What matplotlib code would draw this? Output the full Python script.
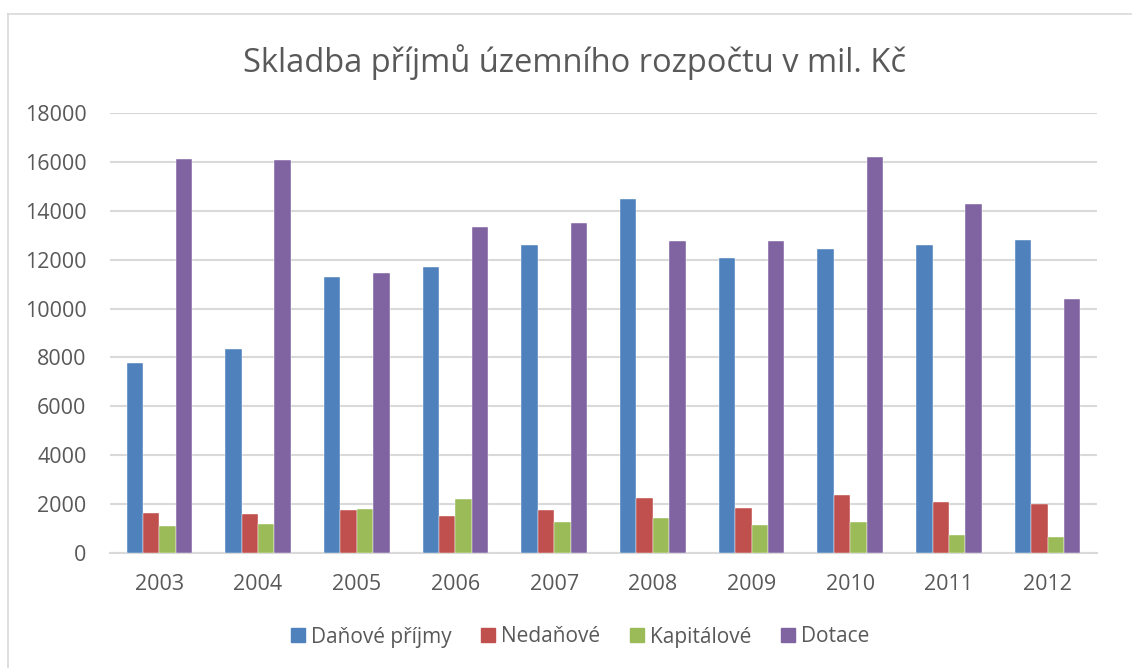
import matplotlib
matplotlib.use("Agg")
import matplotlib.pyplot as plt
import numpy as np
from matplotlib.lines import Line2D

plt.rcParams['font.family'] = ['Open Sans', 'DejaVu Sans']

years = ["2003", "2004", "2005", "2006", "2007", "2008", "2009", "2010", "2011", "2012"]
danove = [7780, 8330, 11290, 11720, 12620, 14490, 12060, 12440, 12580, 12800]
nedanove = [1650, 1590, 1750, 1530, 1750, 2240, 1830, 2380, 2090, 2010]
kapitalove = [1110, 1200, 1800, 2210, 1260, 1450, 1150, 1270, 740, 660]
dotace = [16130, 16060, 11440, 13330, 13520, 12760, 12780, 16200, 14290, 10400]

series = [("Daňové příjmy", danove, "#4F81BD"),
          ("Nedaňové", nedanove, "#C0504D"),
          ("Kapitálové", kapitalove, "#9BBB59"),
          ("Dotace", dotace, "#8064A2")]

text_color = "#595959"
grid_color = "#D9D9D9"

fig = plt.figure(figsize=(11.32, 6.68), dpi=100)
ax = fig.add_axes([110/1132, 1 - 553/668, (1097-110)/1132, (553-113)/668])

x = np.arange(len(years))
bw = 0.166
for i, (name, vals, col) in enumerate(series):
    ax.bar(x + (i - 1.5) * bw, vals, width=bw, color=col, label=name,
           zorder=3, edgecolor="white", linewidth=0.3)

ax.set_xlim(-0.5, len(years) - 0.5)
ax.set_ylim(0, 18000)
ax.set_yticks(np.arange(0, 18001, 2000))
ax.set_xticks(x)
ax.set_xticklabels(years)
ax.yaxis.grid(True, color=grid_color, linewidth=1.5, zorder=0)
ax.set_axisbelow(True)
for s in ["top", "right", "left"]:
    ax.spines[s].set_visible(False)
ax.spines["bottom"].set_color(grid_color)
ax.spines["bottom"].set_linewidth(1.5)
ax.tick_params(axis="both", length=0, colors=text_color, labelsize=15.5)
ax.tick_params(axis="y", pad=17)
ax.tick_params(axis="x", pad=15)

fig.text(575/1132, 1 - 62/668, "Skladba příjmů územního rozpočtu v mil. Kč",
         ha="center", va="center", fontsize=23.5, color=text_color)

handles = [plt.Rectangle((0, 0), 1, 1, color=c) for _, _, c in series]
labels = [n for n, _, _ in series]
leg = fig.legend(handles, labels, loc="center", bbox_to_anchor=(580/1132, 1 - 637/668),
                 ncol=4, frameon=False, fontsize=15, handlelength=0.67, handleheight=0.67,
                 handletextpad=0.29, columnspacing=1.42, borderpad=0, borderaxespad=0)
for t in leg.get_texts():
    t.set_color(text_color)

# outer border (left and top visible)
fig.add_artist(Line2D([8/1132, 8/1132], [0, 1 - 14/668], transform=fig.transFigure,
                      color="#D9D9D9", linewidth=1.2))
fig.add_artist(Line2D([8/1132, 1], [1 - 14/668, 1 - 14/668], transform=fig.transFigure,
                      color="#D9D9D9", linewidth=1.2))

fig.savefig("out.png", dpi=100)
